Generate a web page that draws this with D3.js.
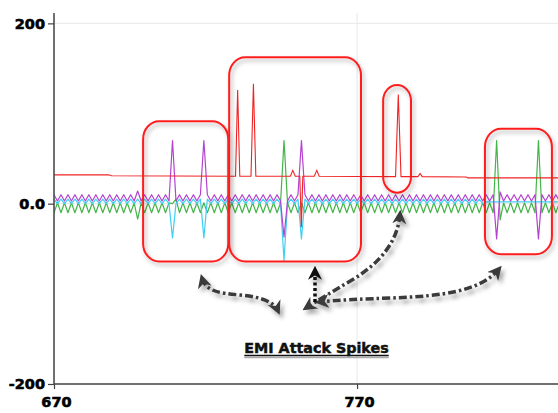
<!DOCTYPE html>
<html><head><meta charset="utf-8">
<script src="https://cdn.jsdelivr.net/npm/d3@7"></script>
<style>html,body{margin:0;padding:0;background:#fff;}svg{display:block;}</style>
</head><body>
<svg id="c" width="558" height="413"></svg>
<script>
// ---- data ----
const xStart = 670, xStep = 1.15;
const xTicks = [670, 770];
const yTicks = [-200, 0, 200];
const purple = [
 10,3,10,3,10,3,10,3,10,3,
 10,3,10,3,10,3,10,3,10,3,
 10,3,10,3,14,3,10,3,10,3,
 10,3,10,3,70,3,10,3,10,3,
 10,3,10,70,10,3,10,3,10,3,
 10,3,10,3,10,3,10,3,10,3,
 10,3,10,3,10,3,-37,3,10,3,
 10,70,10,3,10,3,10,3,10,3,
 10,3,10,3,10,3,10,3,10,3,
 10,3,10,3,10,3,10,3,10,3,
 10,3,10,3,10,3,10,3,10,3,
 10,3,10,3,10,3,10,3,10,3,
 10,3,10,3,10,3,10,-39,13,3,
 10,3,10,3,10,3,10,3,10,-39,
 10,3,10,3,10,3];
const cyan = [
 5,0,5,0,5,0,5,0,5,0,
 5,0,5,0,5,0,5,0,5,0,
 5,0,5,0,5,0,5,0,5,0,
 5,0,5,0,-38,0,5,0,5,0,
 5,0,5,-38,5,0,5,0,5,0,
 5,0,5,0,5,0,5,0,5,0,
 5,0,5,0,5,0,-63,0,5,0,
 5,-39,5,0,5,0,5,0,5,0,
 5,0,5,0,5,0,5,0,5,0,
 5,0,5,0,5,0,5,0,5,0,
 5,0,5,0,5,0,5,0,5,0,
 5,0,5,0,5,0,5,0,5,0,
 5,0,5,0,2,2,2,2,2,2,
 2,2,2,2,2,2,2,2,2,2,
 2,2,2,2,2,2];
const green = [
 -10,1,-10,1,-10,1,-10,1,-10,1,
 -10,1,-10,1,-10,1,-10,1,-10,1,
 -10,1,-10,1,-17,1,-10,1,-10,1,
 -10,1,-10,1,0,5,-10,1,-10,1,
 -10,1,-10,1,-10,1,-10,1,-10,1,
 -10,1,-10,1,-10,1,-10,1,-10,1,
 -10,1,-10,1,-10,1,70,1,-10,1,
 -10,1,-10,1,-10,1,-10,1,-10,1,
 -10,1,-10,1,-10,1,-10,1,-10,1,
 -10,1,-10,1,-10,1,-10,1,-10,1,
 -10,1,-10,1,-10,1,-10,1,-10,1,
 -10,1,-10,1,-10,1,-10,1,-10,1,
 -10,1,-10,1,-10,1,-10,70,-18,1,
 -10,1,-10,1,-10,1,-10,1,-10,70,
 -10,1,-10,1,-10,1];
const redX = [670, 688, 689, 729.9, 730.6, 731.3, 735.0, 735.8, 736.6, 748.0, 748.8, 749.6, 751.1, 751.6, 752.1, 755.9, 756.7, 757.5, 782.7, 783.6, 784.5, 790.1, 790.8, 791.5, 806.0, 806.6, 840];
const redY = [32, 32, 31, 30.5, 126, 30.5, 30.5, 133, 30.5, 30.5, 37, 30.5, 30.5, -26, 30.5, 30.5, 37, 30.5, 30, 121, 30, 30, 33.5, 30, 29.6, 28.6, 28.6];
const boxes = [ // [x0, x1, top value, bottom value, radius]
  [699.4, 727.5, 91.5, -64, 16],
  [727.8, 771.3, 162.4, -64, 16],
  [778.6, 787.8, 131.7, 12.2, 14],
  [812.2, 834.3, 83, -56, 16]
];
const label = "EMI Attack Spikes";

// ---- chart ----
const svg = d3.select("#c");
const L = 54, R = 558, T = 13, B = 384;
const x = d3.scaleLinear().domain([670, 836.3]).range([L, R]);
const y = d3.scaleLinear().domain([-200, 211.5]).range([B, T]);

const defs = svg.append("defs");
defs.append("clipPath").attr("id","clip").append("rect").attr("x",L).attr("y",T).attr("width",R-L).attr("height",B-T);
const f1 = defs.append("filter").attr("id","sh").attr("x","-20%").attr("y","-20%").attr("width","140%").attr("height","140%");
f1.append("feDropShadow").attr("dx",2).attr("dy",3).attr("stdDeviation",2).attr("flood-color","#000").attr("flood-opacity",0.3);
const f2 = defs.append("filter").attr("id","sh2").attr("x","-20%").attr("y","-20%").attr("width","140%").attr("height","140%");
f2.append("feDropShadow").attr("dx",3).attr("dy",4).attr("stdDeviation",2).attr("flood-color","#000").attr("flood-opacity",0.35);
function marker(id, col){
  defs.append("marker").attr("id",id).attr("viewBox","0 0 10 10").attr("refX",7).attr("refY",5)
    .attr("markerWidth",14).attr("markerHeight",14).attr("markerUnits","userSpaceOnUse")
    .attr("orient","auto-start-reverse")
    .append("path").attr("d","M0,0 L10,5 L0,10 L3,5 z").attr("fill",col);
}
marker("ah","#3a3a3a");
marker("ahb","#111");

// grid
svg.append("g").selectAll("line").data(yTicks).join("line")
  .attr("x1",L).attr("x2",R).attr("y1",d=>y(d)).attr("y2",d=>y(d))
  .attr("stroke","#e8e8e8").attr("stroke-width",1);
svg.append("g").selectAll("line").data(xTicks).join("line")
  .attr("x1",d=>x(d)).attr("x2",d=>x(d)).attr("y1",T).attr("y2",B)
  .attr("stroke","#e8e8e8").attr("stroke-width",1);

// series
const xs = purple.map((_, i) => xStart + i * xStep);
const line = d3.line().x(d=>x(d[0])).y(d=>y(d[1]));
const plot = svg.append("g").attr("clip-path","url(#clip)");
const series = [
  {v: green, c: "#44b548"},
  {v: cyan, c: "#3fcff5"},
  {v: purple, c: "#b443d0"}
];
series.forEach(s => {
  plot.append("path").attr("d", line(xs.map((xx,i)=>[xx, s.v[i]])))
    .attr("fill","none").attr("stroke",s.c).attr("stroke-width",1.2).attr("stroke-linejoin","round");
});
plot.append("path").attr("d", line(redX.map((xx,i)=>[xx, redY[i]])))
  .attr("fill","none").attr("stroke","#f02424").attr("stroke-width",1.1);

// axes
const yAxis = d3.axisLeft(y).tickValues(yTicks).tickSize(6).tickPadding(3).tickFormat(d => d === 0 ? "0.0" : String(d));
const gy = svg.append("g").attr("transform",`translate(${L},0)`).call(yAxis);
const xAxis = d3.axisBottom(x).tickValues(xTicks).tickSize(5).tickPadding(8).tickFormat(d => String(d));
const gx = svg.append("g").attr("transform",`translate(0,${B})`).call(xAxis);
[gx, gy].forEach(g => {
  g.select(".domain").remove();
  g.selectAll(".tick line").attr("stroke","#444").attr("stroke-width",1.2);
  g.selectAll("text").attr("fill","#000").attr("stroke","#000").attr("stroke-width",0.6)
    .style("font-family","'DejaVu Sans', sans-serif")
    .style("font-weight","bold").style("font-size","14.5px");
});
gx.selectAll("text").attr("dx", 2);
svg.append("line").attr("x1",L).attr("x2",L).attr("y1",T).attr("y2",B).attr("stroke","#444").attr("stroke-width",1.5);
svg.append("line").attr("x1",L).attr("x2",R).attr("y1",B).attr("y2",B).attr("stroke","#444").attr("stroke-width",1.5);

// annotation boxes
svg.append("g").selectAll("rect").data(boxes).join("rect")
  .attr("x",d=>x(d[0])).attr("y",d=>y(d[2]))
  .attr("width",d=>x(d[1])-x(d[0])).attr("height",d=>y(d[3])-y(d[2]))
  .attr("rx",d=>d[4]).attr("ry",d=>d[4]+2)
  .attr("fill","none").attr("stroke","#ff1f1f").attr("stroke-width",2)
  .attr("filter","url(#sh)");

// arrows
const ag = svg.append("g").attr("filter","url(#sh2)");
const arrows = [
  "M202,278 C206,292 220,293 240,295 C262,297 274,302 278,311",
  "M400,214 C398,240 382,262 352,280 C332,292 318,300 306,308",
  "M499,269 C480,292 440,296 392,298 C362,299 338,300 319,302"
];
ag.selectAll("path.a").data(arrows).join("path").attr("class","a").attr("d",d=>d)
  .attr("fill","none").attr("stroke","#3a3a3a").attr("stroke-width",3.5)
  .attr("stroke-dasharray","8,3,2.5,3")
  .attr("marker-start","url(#ah)").attr("marker-end","url(#ah)");
ag.append("path").attr("d","M315,302 L315,270").attr("fill","none").attr("stroke","#111")
  .attr("stroke-width",3.5).attr("stroke-dasharray","3,2.5").attr("marker-end","url(#ahb)");

// label
const tx = svg.append("text").attr("x",316.5).attr("y",352.5).attr("text-anchor","middle")
  .style("font-family","'DejaVu Sans', sans-serif").style("font-weight","bold").style("font-size","14.3px")
  .attr("fill","#111").attr("stroke","#111").attr("stroke-width",0.5).text(label);
const bb = tx.node().getBBox();
svg.append("line").attr("x1",bb.x).attr("x2",bb.x+bb.width).attr("y1",357.5).attr("y2",357.5).attr("stroke","#aaa").attr("stroke-width",1.5);
svg.append("line").attr("x1",bb.x).attr("x2",bb.x+bb.width).attr("y1",355.5).attr("y2",355.5).attr("stroke","#111").attr("stroke-width",1.5);
</script>
</body></html>
